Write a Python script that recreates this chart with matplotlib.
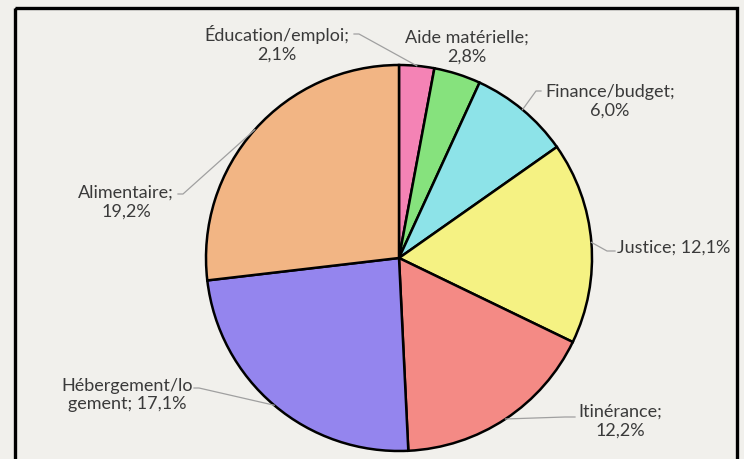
import numpy as np
import matplotlib
matplotlib.use("Agg")
import matplotlib.pyplot as plt
from matplotlib.patches import Rectangle

# data, clockwise from the top
categories = ["Éducation/emploi", "Aide matérielle", "Finance/budget", "Justice",
              "Itinérance", "Hébergement/logement", "Alimentaire"]
values = [2.1, 2.8, 6.0, 12.1, 12.2, 17.1, 19.2]
label_texts = ["Éducation/emploi;\n2,1%", "Aide matérielle;\n2,8%", "Finance/budget;\n6,0%",
               "Justice; 12,1%", "Itinérance;\n12,2%", "Hébergement/lo\ngement; 17,1%",
               "Alimentaire;\n19,2%"]
colors = ["#f483b5", "#86e27d", "#8de3e8", "#f5f283", "#f48a85", "#9485ee", "#f2b584"]

# layout (pixels, origin top-left)
W, H = 744, 459
cx, cy, R = 399, 258, 193
text_pos = [(277, 44), (467, 47), (610, 101), (674, 248), (620, 421), (127, 395), (126, 202)]
anchors = [(354, 34), None, (541, 91), (615, 251), (575, 417), (194, 388), (178, 194)]
elbow_dx = [5, 0, -5, -8, -10, 5, 5]

bg = "#f1f0ec"
fig = plt.figure(figsize=(W / 100, H / 100), dpi=100, facecolor=bg)
ax = fig.add_axes([0, 0, 1, 1])
ax.axis("off")

# frame
ax.add_patch(Rectangle((14.5, 8), 722, 470, fill=False, edgecolor="black", linewidth=2.4, zorder=1))

# y axis points down, so the pie runs counterclockwise in data terms to look clockwise
wedges, _ = ax.pie(values, colors=colors, startangle=-90, counterclock=True,
                   center=(cx, cy), radius=R,
                   wedgeprops=dict(edgecolor="black", linewidth=1.8))
ax.set_xlim(0, W)
ax.set_ylim(H, 0)
ax.set_aspect("equal")

total = sum(values)
cum = np.cumsum([0] + values)
for i, txt in enumerate(label_texts):
    ax.text(text_pos[i][0], text_pos[i][1], txt, ha="center", va="center",
            fontsize=13, color="#3a3a3a", family="Lato", linespacing=1.2, zorder=5)
    if anchors[i] is None:
        continue
    mid = (cum[i] + values[i] / 2) / total * 2 * np.pi
    ex = cx + R * np.sin(mid)
    ey = cy - R * np.cos(mid)
    ax_, ay_ = anchors[i]
    ax.plot([ax_, ax_ + elbow_dx[i], ex], [ay_, ay_, ey], color="#a0a0a0", linewidth=0.9, zorder=4)

fig.savefig("out.png", dpi=100, facecolor=bg)
